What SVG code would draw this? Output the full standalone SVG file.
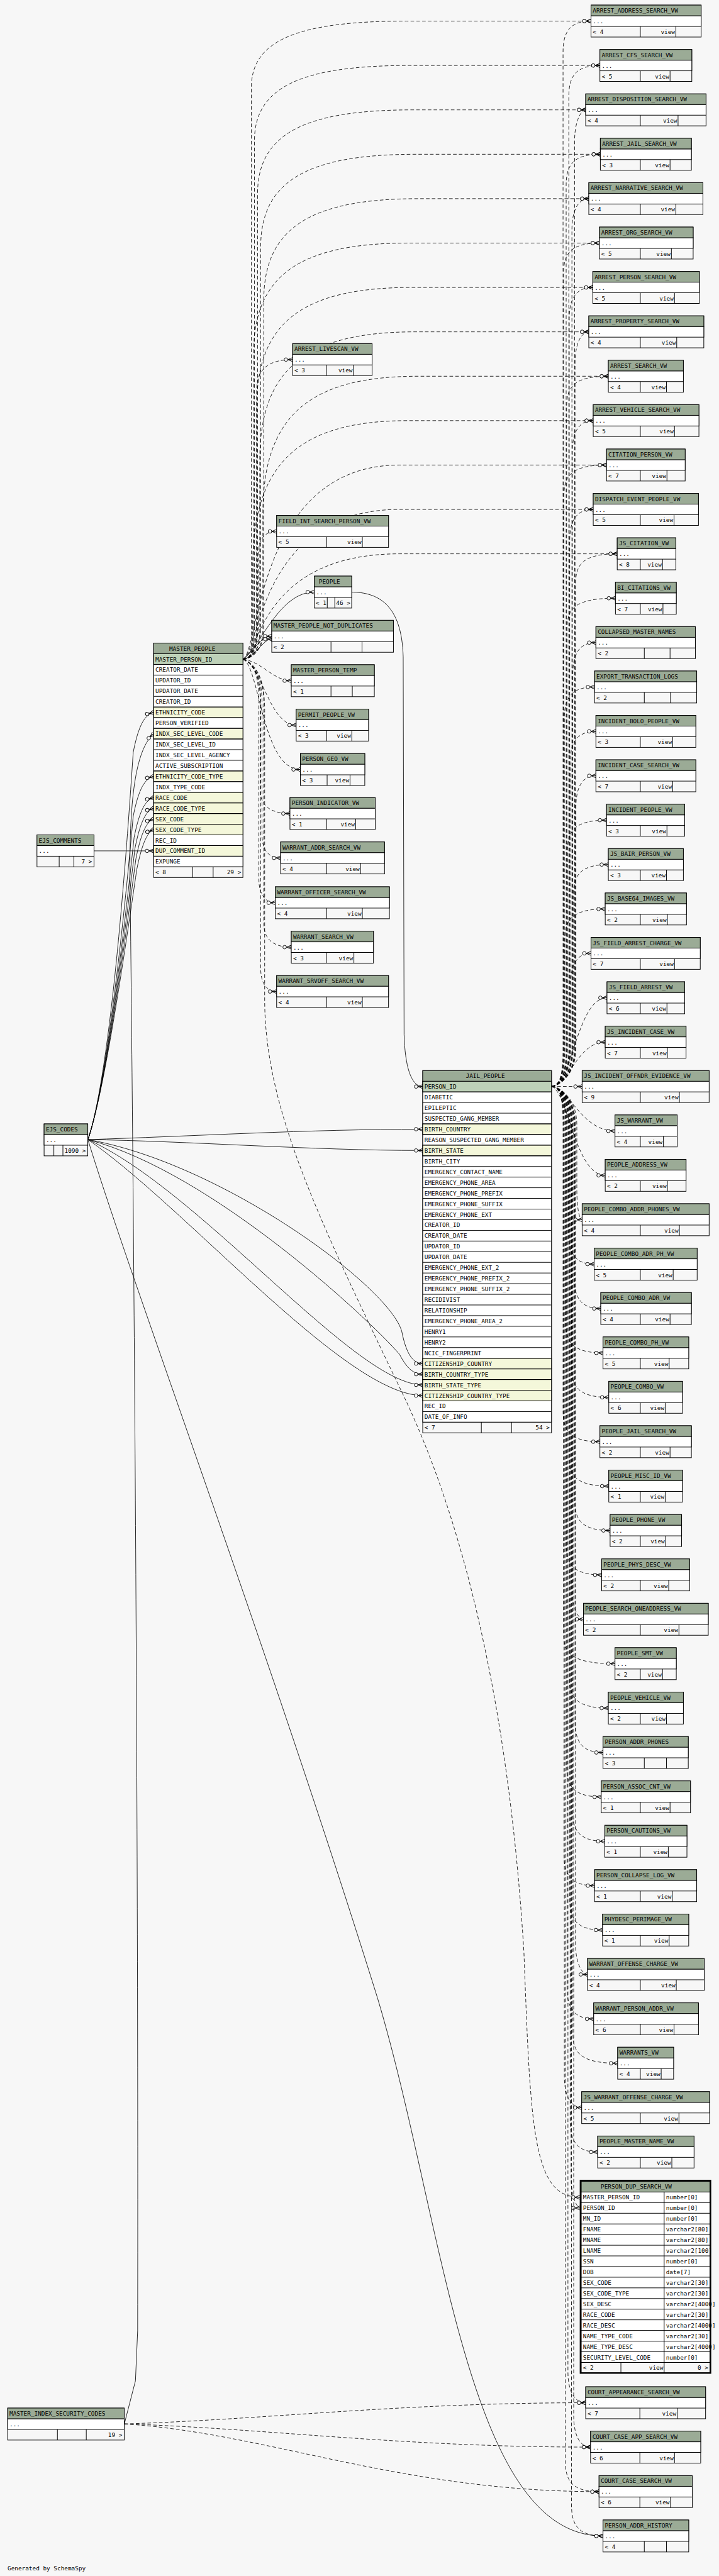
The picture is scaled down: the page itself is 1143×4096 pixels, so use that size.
<svg xmlns="http://www.w3.org/2000/svg" width="1143" height="4096" viewBox="0 0 1143 4096">
<style>
.o{fill:#f7f7f7;stroke:#000;stroke-width:1.4}
.w{fill:#fff;stroke:#000;stroke-width:1.4}
.h{fill:#9bab96;stroke:#000;stroke-width:1.4}
.p{fill:#bed1b8;stroke:#000;stroke-width:1.4}
.f{fill:#f4f7da;stroke:#000;stroke-width:1.4}
.l{fill:none;stroke:#000;stroke-width:1.4}
text{font-family:"DejaVu Sans Mono","Liberation Mono",monospace;font-size:13.3px;fill:#000}
.r{text-anchor:end}
.e{fill:none;stroke:#000;stroke-width:1.2;marker-end:url(#cf)}
.d{stroke-dasharray:8,5}
</style>
<defs>
<marker id="cf" markerUnits="userSpaceOnUse" markerWidth="30" markerHeight="16" refX="22" refY="8" orient="auto" overflow="visible">
<path d="M11,8L22,3.5M11,8L22,8M11,8L22,12.5" fill="none" stroke="#000" stroke-width="1.3"/>
<circle cx="7" cy="8" r="4" fill="#f7f7f7" stroke="#000" stroke-width="1.3"/>
</marker>
</defs>
<rect width="1143" height="4096" fill="#f7f7f7"/>
<g transform="scale(0.7059)">
<g id="connectors">
<path class="e d" d="M1242,2447C1262,2445 1268,2420 1268,2360L1268,117.5C1268,72.5 1283,47.5 1331,47.5"/>
<path class="e d" d="M1242,2447C1262,2445 1281,2420 1281,2360L1281,217.5C1281,172.5 1296,147.5 1351,147.5"/>
<path class="e d" d="M1242,2447C1262,2445 1294,2420 1294,2360L1294,317.5C1294,272.5 1309,247.5 1319,247.5"/>
<path class="e d" d="M1242,2447C1262,2445 1275,2420 1275,2360L1275,417.5C1275,372.5 1290,347.5 1352,347.5"/>
<path class="e d" d="M1242,2447C1262,2445 1288,2420 1288,2360L1288,517.5C1288,472.5 1303,447.5 1326,447.5"/>
<path class="e d" d="M1242,2447C1262,2445 1269,2420 1269,2360L1269,617.5C1269,572.5 1284,547.5 1350,547.5"/>
<path class="e d" d="M1242,2447C1262,2445 1282,2420 1282,2360L1282,717.5C1282,672.5 1297,647.5 1335,647.5"/>
<path class="e d" d="M1242,2447C1262,2445 1295,2420 1295,2360L1295,817.5C1295,772.5 1310,747.5 1326,747.5"/>
<path class="e d" d="M1242,2447C1262,2445 1276,2420 1276,2360L1276,917.5C1276,872.5 1291,847.5 1370,847.5"/>
<path class="e d" d="M1242,2447C1262,2445 1289,2420 1289,2360L1289,1017.5C1289,972.5 1304,947.5 1336,947.5"/>
<path class="e d" d="M1242,2447C1262,2445 1270,2420 1270,2360L1270,1117.5C1270,1072.5 1285,1047.5 1366,1047.5"/>
<path class="e d" d="M1242,2447C1262,2445 1283,2420 1283,2360L1283,1217.5C1283,1172.5 1298,1147.5 1336,1147.5"/>
<path class="e d" d="M1242,2447C1262,2445 1296,2420 1296,2360L1296,1317.5C1296,1272.5 1311,1247.5 1390,1247.5"/>
<path class="e d" d="M1242,2447C1262,2445 1277,2420 1277,2360L1277,1417.5C1277,1372.5 1292,1347.5 1386,1347.5"/>
<path class="e d" d="M1242,2447C1262,2445 1290,2420 1290,2360L1290,1517.5C1290,1472.5 1305,1447.5 1342,1447.5"/>
<path class="e d" d="M1242,2447C1262,2445 1271,2420 1271,2360L1271,1617.5C1271,1572.5 1286,1547.5 1339,1547.5"/>
<path class="e d" d="M1242,2447C1262,2445 1284,2420 1284,2360L1284,1717.5C1284,1672.5 1299,1647.5 1342,1647.5"/>
<path class="e d" d="M1242,2447C1262,2445 1297,2420 1297,2360L1297,1817.5C1297,1772.5 1312,1747.5 1342,1747.5"/>
<path class="e d" d="M1242,2447C1262,2445 1278,2420 1278,2360L1278,1917.5C1278,1872.5 1293,1847.5 1366,1847.5"/>
<path class="e d" d="M1242,2447C1262,2445 1291,2420 1291,2360L1291,2017.5C1291,1972.5 1306,1947.5 1370,1947.5"/>
<path class="e d" d="M1242,2447C1262,2445 1272,2420 1272,2360L1272,2117.5C1272,2072.5 1287,2047.5 1363,2047.5"/>
<path class="e d" d="M1242,2447C1262,2445 1285,2420 1285,2360L1285,2217.5C1285,2172.5 1300,2147.5 1331,2147.5"/>
<path class="e d" d="M1242,2447C1290,2440 1300,2247.5 1367,2247.5"/>
<path class="e d" d="M1242,2447C1285,2440 1300,2347.5 1363,2347.5"/>
<path class="e d" d="M1242,2447L1311,2447.5"/>
<path class="e d" d="M1242,2447C1285,2455 1310,2547.5 1385,2547.5"/>
<path class="e d" d="M1242,2447C1280,2460 1295,2647.5 1363,2647.5"/>
<path class="e d" d="M1242,2447C1262,2449 1299,2474 1299,2534L1299,2677.5C1299,2722.5 1305,2747.5 1311,2747.5"/>
<path class="e d" d="M1242,2447C1262,2449 1280,2474 1280,2534L1280,2777.5C1280,2822.5 1295,2847.5 1338,2847.5"/>
<path class="e d" d="M1242,2447C1262,2449 1293,2474 1293,2534L1293,2877.5C1293,2922.5 1308,2947.5 1353,2947.5"/>
<path class="e d" d="M1242,2447C1262,2449 1274,2474 1274,2534L1274,2977.5C1274,3022.5 1289,3047.5 1358,3047.5"/>
<path class="e d" d="M1242,2447C1262,2449 1287,2474 1287,2534L1287,3077.5C1287,3122.5 1302,3147.5 1371,3147.5"/>
<path class="e d" d="M1242,2447C1262,2449 1268,2474 1268,2534L1268,3177.5C1268,3222.5 1283,3247.5 1351,3247.5"/>
<path class="e d" d="M1242,2447C1262,2449 1281,2474 1281,2534L1281,3277.5C1281,3322.5 1296,3347.5 1371,3347.5"/>
<path class="e d" d="M1242,2447C1262,2449 1294,2474 1294,2534L1294,3377.5C1294,3422.5 1309,3447.5 1374,3447.5"/>
<path class="e d" d="M1242,2447C1262,2449 1275,2474 1275,2534L1275,3477.5C1275,3522.5 1290,3547.5 1355,3547.5"/>
<path class="e d" d="M1242,2447C1262,2449 1288,2474 1288,2534L1288,3577.5C1288,3622.5 1303,3647.5 1314,3647.5"/>
<path class="e d" d="M1242,2447C1262,2449 1269,2474 1269,2534L1269,3677.5C1269,3722.5 1284,3747.5 1385,3747.5"/>
<path class="e d" d="M1242,2447C1262,2449 1282,2474 1282,2534L1282,3777.5C1282,3822.5 1297,3847.5 1370,3847.5"/>
<path class="e d" d="M1242,2447C1262,2449 1295,2474 1295,2534L1295,3877.5C1295,3922.5 1310,3947.5 1358,3947.5"/>
<path class="e d" d="M1242,2447C1262,2449 1276,2474 1276,2534L1276,3977.5C1276,4022.5 1291,4047.5 1354,4047.5"/>
<path class="e d" d="M1242,2447C1262,2449 1289,2474 1289,2534L1289,4077.5C1289,4122.5 1304,4147.5 1362,4147.5"/>
<path class="e d" d="M1242,2447C1262,2449 1270,2474 1270,2534L1270,4177.5C1270,4222.5 1285,4247.5 1339,4247.5"/>
<path class="e d" d="M1242,2447C1262,2449 1283,2474 1283,2534L1283,4277.5C1283,4322.5 1298,4347.5 1357,4347.5"/>
<path class="e d" d="M1242,2447C1262,2449 1296,2474 1296,2534L1296,4377.5C1296,4422.5 1311,4447.5 1323,4447.5"/>
<path class="e d" d="M1242,2447C1262,2449 1277,2474 1277,2534L1277,4477.5C1277,4522.5 1292,4547.5 1337,4547.5"/>
<path class="e d" d="M1242,2447C1262,2449 1290,2474 1290,2534L1290,4577.5C1290,4622.5 1305,4647.5 1391,4647.5"/>
<path class="e d" d="M1242,2447C1262,2449 1271,2474 1271,2534L1271,4677.5C1271,4722.5 1286,4747.5 1310,4747.5"/>
<path class="e d" d="M1242,2447C1262,2449 1284,2474 1284,2534L1284,4777.5C1284,4822.5 1299,4847.5 1346,4847.5"/>
<path class="e d" d="M1242,2447C1262,2449 1286,2474 1286,2534L1286,4903.5C1286,4948.5 1300,4973.5 1306,4973.5"/>
<path class="e d" d="M1242,2447C1262,2449 1279,2474 1279,2534L1279,5342.3C1279,5387.3 1294,5412.3 1319,5412.3"/>
<path class="e d" d="M1242,2447C1262,2449 1292,2474 1292,2534L1292,5442.2C1292,5487.2 1307,5512.2 1330,5512.2"/>
<path class="e d" d="M1242,2447C1262,2449 1273,2474 1273,2534L1273,5542.5C1273,5587.5 1288,5612.5 1349,5612.5"/>
<path class="e d" d="M1242,2447C1262,2449 1287,2474 1287,2534L1287,5642.4C1287,5687.4 1302,5712.4 1358,5712.4"/>
<path class="e d" d="M547,1485C570,1484 566,1460 566,1420L566,197.5C566,92.5 666,47.5 916,47.5L1331,47.5"/>
<path class="e d" d="M547,1485C570,1484 573,1460 573,1420L573,317.5C573,198.5 673,147.5 923,147.5L1351,147.5"/>
<path class="e d" d="M547,1485C570,1484 580,1460 580,1420L580,437.5C580,304.5 680,247.5 930,247.5L1319,247.5"/>
<path class="e d" d="M547,1485C570,1484 587,1460 587,1420L587,557.5C587,410.5 687,347.5 937,347.5L1352,347.5"/>
<path class="e d" d="M547,1485C570,1484 594,1460 594,1420L594,677.5C594,516.5 694,447.5 944,447.5L1326,447.5"/>
<path class="e d" d="M547,1485C570,1484 571,1460 571,1420L571,797.5C571,622.5 671,547.5 921,547.5L1350,547.5"/>
<path class="e d" d="M547,1485C570,1484 578,1460 578,1420L578,917.5C578,728.5 678,647.5 928,647.5L1335,647.5"/>
<path class="e d" d="M547,1485C570,1484 585,1460 585,1420L585,1037.5C585,834.5 685,747.5 935,747.5L1326,747.5"/>
<path class="e d" d="M547,1485C570,1484 592,1460 592,1420L592,1157.5C592,940.5 692,847.5 942,847.5L1370,847.5"/>
<path class="e d" d="M547,1485C570,1484 569,1460 569,1420L569,1277.5C569,1046.5 669,947.5 919,947.5L1336,947.5"/>
<path class="e d" d="M547,1485C585,1470 576,1047.5 900,1047.5L1366,1047.5"/>
<path class="e d" d="M547,1485C585,1470 583,1147.5 900,1147.5L1336,1147.5"/>
<path class="e d" d="M547,1485C585,1470 590,1247.5 900,1247.5L1390,1247.5"/>
<path class="e d" d="M547,1485C572,1482 578,1450 578,1400L578,880C578,835 600,810 659,810"/>
<path class="e d" d="M547,1485C570,1480 582,1450 582,1400L582,1250C582,1215 595,1197 623,1197"/>
<path class="e" d="M547,1485C590,1450 630,1333.7 708,1333.7"/>
<path class="e" d="M547,1485C570,1470 585,1433 612,1433"/>
<path class="e" d="M547,1485C575,1480 592,1440 612,1439"/>
<path class="e d" d="M547,1485C590,1490 615,1533.3 656,1533.3"/>
<path class="e d" d="M547,1485C590,1495 605,1633.3 667,1633.3"/>
<path class="e d" d="M547,1485C585,1500 590,1733.3 676,1733.3"/>
<path class="e d" d="M547,1485C575,1495 586,1530 586,1580L586,1780C586,1815 610,1832.5 653,1832.5"/>
<path class="e d" d="M547,1485C575,1495 590,1530 590,1580L590,1880C590,1915 605,1932.5 632,1932.5"/>
<path class="e d" d="M547,1485C575,1495 583,1530 583,1580L583,1980C583,2015 598,2033.5 620,2033.5"/>
<path class="e d" d="M547,1485C575,1495 594,1530 594,1580L594,2080C594,2115 615,2133.5 656,2133.5"/>
<path class="e d" d="M547,1485C575,1495 587,1530 587,1580L587,2180C587,2215 600,2233.4 623,2233.4"/>
<path class="e d" d="M547,1485C578,1495 596,1530 596,1600L596,2250C596,2500 720,2750 908,3142C1060,3460 1150,3900 1180,4400C1195,4800 1200,4949.5 1306,4949.5"/>
<path class="e" d="M791,1333.7C850,1334 905,1360 908,1480L910,2330C912,2400 925,2447.5 952,2447.5"/>
<path class="e" d="M212,1916.6L346,1916.6"/>
<path class="e" d="M198,2567C235,2460 270,2150 300,1694.6C310,1644.6 322,1610.6 346,1604.6"/>
<path class="e" d="M198,2567C235,2460 272,2150 300,1838.6C310,1788.6 322,1754.6 346,1748.6"/>
<path class="e" d="M198,2567C235,2460 274,2150 302,1886.6C312,1836.6 324,1802.6 346,1796.6"/>
<path class="e" d="M198,2567C235,2460 276,2150 304,1910.6C314,1860.6 326,1826.6 346,1820.6"/>
<path class="e" d="M198,2567C235,2460 278,2150 306,1934.6C316,1884.6 328,1850.6 346,1844.6"/>
<path class="e" d="M198,2567C235,2460 280,2150 308,1958.6C318,1908.6 330,1874.6 346,1868.6"/>
<path class="e" d="M198,2567C420,2560 700,2543.5 952,2543.5"/>
<path class="e" d="M198,2567C420,2570 700,2591.5 952,2591.5"/>
<path class="e" d="M198,2567C500,2620 880,2900 905,3000C915,3050 930,3071.5 952,3071.5"/>
<path class="e" d="M198,2567C480,2640 840,2980 900,3051C915,3080 930,3095.5 952,3095.5"/>
<path class="e" d="M198,2567C450,2680 800,3119.5 952,3119.5"/>
<path class="e" d="M198,2567C420,2720 780,3143.5 952,3143.5"/>
<path class="e" d="M198,2567C300,2900 600,3700 850,4500C1000,5000 1050,5712.4 1358,5712.4"/>
<path class="e" d="M280,5460L305,5363L310,5250C312,4000 300,2600 293,2000C290,1800 305,1690 346,1652.6"/>
<path class="e d" d="M280,5460C600,5450 900,5412.3 1319,5412.3"/>
<path class="e d" d="M280,5460C600,5470 900,5512.2 1330,5512.2"/>
<path class="e d" d="M280,5460C600,5480 900,5612.5 1349,5612.5"/>
</g>
<g id="ARREST_ADDRESS_SEARCH_VW" transform="translate(1331,11.5)"><rect class="o" width="248" height="72"/><rect class="w" y="24" width="248" height="24"/><rect class="h" width="248" height="24"/><path class="l" d="M111,48V72M191,48V72"/><text x="4" y="17">ARREST_ADDRESS_SEARCH_VW</text><text x="4" y="41">...</text><text x="4" y="65">&lt; 4</text><text x="189" y="65" class="r">view</text></g>
<g id="ARREST_CFS_SEARCH_VW" transform="translate(1351,111.5)"><rect class="o" width="207" height="72"/><rect class="w" y="24" width="207" height="24"/><rect class="h" width="207" height="24"/><path class="l" d="M91,48V72M158,48V72"/><text x="4" y="17">ARREST_CFS_SEARCH_VW</text><text x="4" y="41">...</text><text x="4" y="65">&lt; 5</text><text x="156" y="65" class="r">view</text></g>
<g id="ARREST_DISPOSITION_SEARCH_VW" transform="translate(1319,211.5)"><rect class="o" width="271" height="72"/><rect class="w" y="24" width="271" height="24"/><rect class="h" width="271" height="24"/><path class="l" d="M123,48V72M208,48V72"/><text x="4" y="17">ARREST_DISPOSITION_SEARCH_VW</text><text x="4" y="41">...</text><text x="4" y="65">&lt; 4</text><text x="206" y="65" class="r">view</text></g>
<g id="ARREST_JAIL_SEARCH_VW" transform="translate(1352,311.5)"><rect class="o" width="205" height="72"/><rect class="w" y="24" width="205" height="24"/><rect class="h" width="205" height="24"/><path class="l" d="M90,48V72M157,48V72"/><text x="4" y="17">ARREST_JAIL_SEARCH_VW</text><text x="4" y="41">...</text><text x="4" y="65">&lt; 3</text><text x="155" y="65" class="r">view</text></g>
<g id="ARREST_NARRATIVE_SEARCH_VW" transform="translate(1326,411.5)"><rect class="o" width="257" height="72"/><rect class="w" y="24" width="257" height="24"/><rect class="h" width="257" height="24"/><path class="l" d="M116,48V72M196,48V72"/><text x="4" y="17">ARREST_NARRATIVE_SEARCH_VW</text><text x="4" y="41">...</text><text x="4" y="65">&lt; 4</text><text x="194" y="65" class="r">view</text></g>
<g id="ARREST_ORG_SEARCH_VW" transform="translate(1350,511.5)"><rect class="o" width="211" height="72"/><rect class="w" y="24" width="211" height="24"/><rect class="h" width="211" height="24"/><path class="l" d="M92,48V72M162,48V72"/><text x="4" y="17">ARREST_ORG_SEARCH_VW</text><text x="4" y="41">...</text><text x="4" y="65">&lt; 5</text><text x="160" y="65" class="r">view</text></g>
<g id="ARREST_PERSON_SEARCH_VW" transform="translate(1335,611.5)"><rect class="o" width="240" height="72"/><rect class="w" y="24" width="240" height="24"/><rect class="h" width="240" height="24"/><path class="l" d="M107,48V72M184,48V72"/><text x="4" y="17">ARREST_PERSON_SEARCH_VW</text><text x="4" y="41">...</text><text x="4" y="65">&lt; 5</text><text x="182" y="65" class="r">view</text></g>
<g id="ARREST_PROPERTY_SEARCH_VW" transform="translate(1326,711.5)"><rect class="o" width="259" height="72"/><rect class="w" y="24" width="259" height="24"/><rect class="h" width="259" height="24"/><path class="l" d="M116,48V72M198,48V72"/><text x="4" y="17">ARREST_PROPERTY_SEARCH_VW</text><text x="4" y="41">...</text><text x="4" y="65">&lt; 4</text><text x="196" y="65" class="r">view</text></g>
<g id="ARREST_SEARCH_VW" transform="translate(1370,811.5)"><rect class="o" width="169" height="72"/><rect class="w" y="24" width="169" height="24"/><rect class="h" width="169" height="24"/><path class="l" d="M72,48V72M131,48V72"/><text x="4" y="17">ARREST_SEARCH_VW</text><text x="4" y="41">...</text><text x="4" y="65">&lt; 4</text><text x="129" y="65" class="r">view</text></g>
<g id="ARREST_VEHICLE_SEARCH_VW" transform="translate(1336,911.5)"><rect class="o" width="238" height="72"/><rect class="w" y="24" width="238" height="24"/><rect class="h" width="238" height="24"/><path class="l" d="M106,48V72M183,48V72"/><text x="4" y="17">ARREST_VEHICLE_SEARCH_VW</text><text x="4" y="41">...</text><text x="4" y="65">&lt; 5</text><text x="181" y="65" class="r">view</text></g>
<g id="CITATION_PERSON_VW" transform="translate(1366,1011.5)"><rect class="o" width="177" height="72"/><rect class="w" y="24" width="177" height="24"/><rect class="h" width="177" height="24"/><path class="l" d="M76,48V72M136,48V72"/><text x="4" y="17">CITATION_PERSON_VW</text><text x="4" y="41">...</text><text x="4" y="65">&lt; 7</text><text x="134" y="65" class="r">view</text></g>
<g id="DISPATCH_EVENT_PEOPLE_VW" transform="translate(1336,1111.5)"><rect class="o" width="237" height="72"/><rect class="w" y="24" width="237" height="24"/><rect class="h" width="237" height="24"/><path class="l" d="M106,48V72M182,48V72"/><text x="4" y="17">DISPATCH_EVENT_PEOPLE_VW</text><text x="4" y="41">...</text><text x="4" y="65">&lt; 5</text><text x="180" y="65" class="r">view</text></g>
<g id="JS_CITATION_VW" transform="translate(1390,1211.5)"><rect class="o" width="132" height="72"/><rect class="w" y="24" width="132" height="24"/><rect class="h" width="132" height="24"/><path class="l" d="M52,48V72M102,48V72"/><text x="4" y="17">JS_CITATION_VW</text><text x="4" y="41">...</text><text x="4" y="65">&lt; 8</text><text x="100" y="65" class="r">view</text></g>
<g id="BI_CITATIONS_VW" transform="translate(1386,1311.5)"><rect class="o" width="137" height="72"/><rect class="w" y="24" width="137" height="24"/><rect class="h" width="137" height="24"/><path class="l" d="M56,48V72M107,48V72"/><text x="4" y="17">BI_CITATIONS_VW</text><text x="4" y="41">...</text><text x="4" y="65">&lt; 7</text><text x="105" y="65" class="r">view</text></g>
<g id="COLLAPSED_MASTER_NAMES" transform="translate(1342,1411.5)"><rect class="o" width="224" height="72"/><rect class="w" y="24" width="224" height="24"/><rect class="h" width="224" height="24"/><path class="l" d="M109,48V72M167,48V72"/><text x="4" y="17">COLLAPSED_MASTER_NAMES</text><text x="4" y="41">...</text><text x="4" y="65">&lt; 2</text></g>
<g id="EXPORT_TRANSACTION_LOGS" transform="translate(1339,1511.5)"><rect class="o" width="230" height="72"/><rect class="w" y="24" width="230" height="24"/><rect class="h" width="230" height="24"/><path class="l" d="M112,48V72M171,48V72"/><text x="4" y="17">EXPORT_TRANSACTION_LOGS</text><text x="4" y="41">...</text><text x="4" y="65">&lt; 2</text></g>
<g id="INCIDENT_BOLO_PEOPLE_VW" transform="translate(1342,1611.5)"><rect class="o" width="225" height="72"/><rect class="w" y="24" width="225" height="24"/><rect class="h" width="225" height="24"/><path class="l" d="M100,48V72M173,48V72"/><text x="4" y="17">INCIDENT_BOLO_PEOPLE_VW</text><text x="4" y="41">...</text><text x="4" y="65">&lt; 3</text><text x="171" y="65" class="r">view</text></g>
<g id="INCIDENT_CASE_SEARCH_VW" transform="translate(1342,1711.5)"><rect class="o" width="225" height="72"/><rect class="w" y="24" width="225" height="24"/><rect class="h" width="225" height="24"/><path class="l" d="M100,48V72M173,48V72"/><text x="4" y="17">INCIDENT_CASE_SEARCH_VW</text><text x="4" y="41">...</text><text x="4" y="65">&lt; 7</text><text x="171" y="65" class="r">view</text></g>
<g id="INCIDENT_PEOPLE_VW" transform="translate(1366,1811.5)"><rect class="o" width="176" height="72"/><rect class="w" y="24" width="176" height="24"/><rect class="h" width="176" height="24"/><path class="l" d="M76,48V72M136,48V72"/><text x="4" y="17">INCIDENT_PEOPLE_VW</text><text x="4" y="41">...</text><text x="4" y="65">&lt; 3</text><text x="134" y="65" class="r">view</text></g>
<g id="JS_BAIR_PERSON_VW" transform="translate(1370,1911.5)"><rect class="o" width="169" height="72"/><rect class="w" y="24" width="169" height="24"/><rect class="h" width="169" height="24"/><path class="l" d="M72,48V72M131,48V72"/><text x="4" y="17">JS_BAIR_PERSON_VW</text><text x="4" y="41">...</text><text x="4" y="65">&lt; 3</text><text x="129" y="65" class="r">view</text></g>
<g id="JS_BASE64_IMAGES_VW" transform="translate(1363,2011.5)"><rect class="o" width="183" height="72"/><rect class="w" y="24" width="183" height="24"/><rect class="h" width="183" height="24"/><path class="l" d="M79,48V72M140,48V72"/><text x="4" y="17">JS_BASE64_IMAGES_VW</text><text x="4" y="41">...</text><text x="4" y="65">&lt; 2</text><text x="138" y="65" class="r">view</text></g>
<g id="JS_FIELD_ARREST_CHARGE_VW" transform="translate(1331,2111.5)"><rect class="o" width="246" height="72"/><rect class="w" y="24" width="246" height="24"/><rect class="h" width="246" height="24"/><path class="l" d="M111,48V72M188,48V72"/><text x="4" y="17">JS_FIELD_ARREST_CHARGE_VW</text><text x="4" y="41">...</text><text x="4" y="65">&lt; 7</text><text x="186" y="65" class="r">view</text></g>
<g id="JS_FIELD_ARREST_VW" transform="translate(1367,2211.5)"><rect class="o" width="175" height="72"/><rect class="w" y="24" width="175" height="24"/><rect class="h" width="175" height="24"/><path class="l" d="M75,48V72M135,48V72"/><text x="4" y="17">JS_FIELD_ARREST_VW</text><text x="4" y="41">...</text><text x="4" y="65">&lt; 6</text><text x="133" y="65" class="r">view</text></g>
<g id="JS_INCIDENT_CASE_VW" transform="translate(1363,2311.5)"><rect class="o" width="182" height="72"/><rect class="w" y="24" width="182" height="24"/><rect class="h" width="182" height="24"/><path class="l" d="M79,48V72M140,48V72"/><text x="4" y="17">JS_INCIDENT_CASE_VW</text><text x="4" y="41">...</text><text x="4" y="65">&lt; 7</text><text x="138" y="65" class="r">view</text></g>
<g id="JS_INCIDENT_OFFNDR_EVIDENCE_VW" transform="translate(1311,2411.5)"><rect class="o" width="286" height="72"/><rect class="w" y="24" width="286" height="24"/><rect class="h" width="286" height="24"/><path class="l" d="M131,48V72M219,48V72"/><text x="4" y="17">JS_INCIDENT_OFFNDR_EVIDENCE_VW</text><text x="4" y="41">...</text><text x="4" y="65">&lt; 9</text><text x="217" y="65" class="r">view</text></g>
<g id="JS_WARRANT_VW" transform="translate(1385,2511.5)"><rect class="o" width="140" height="72"/><rect class="w" y="24" width="140" height="24"/><rect class="h" width="140" height="24"/><path class="l" d="M57,48V72M109,48V72"/><text x="4" y="17">JS_WARRANT_VW</text><text x="4" y="41">...</text><text x="4" y="65">&lt; 4</text><text x="107" y="65" class="r">view</text></g>
<g id="PEOPLE_ADDRESS_VW" transform="translate(1363,2611.5)"><rect class="o" width="182" height="72"/><rect class="w" y="24" width="182" height="24"/><rect class="h" width="182" height="24"/><path class="l" d="M79,48V72M140,48V72"/><text x="4" y="17">PEOPLE_ADDRESS_VW</text><text x="4" y="41">...</text><text x="4" y="65">&lt; 2</text><text x="138" y="65" class="r">view</text></g>
<g id="PEOPLE_COMBO_ADDR_PHONES_VW" transform="translate(1311,2711.5)"><rect class="o" width="286" height="72"/><rect class="w" y="24" width="286" height="24"/><rect class="h" width="286" height="24"/><path class="l" d="M131,48V72M219,48V72"/><text x="4" y="17">PEOPLE_COMBO_ADDR_PHONES_VW</text><text x="4" y="41">...</text><text x="4" y="65">&lt; 4</text><text x="217" y="65" class="r">view</text></g>
<g id="PEOPLE_COMBO_ADR_PH_VW" transform="translate(1338,2811.5)"><rect class="o" width="232" height="72"/><rect class="w" y="24" width="232" height="24"/><rect class="h" width="232" height="24"/><path class="l" d="M104,48V72M178,48V72"/><text x="4" y="17">PEOPLE_COMBO_ADR_PH_VW</text><text x="4" y="41">...</text><text x="4" y="65">&lt; 5</text><text x="176" y="65" class="r">view</text></g>
<g id="PEOPLE_COMBO_ADR_VW" transform="translate(1353,2911.5)"><rect class="o" width="204" height="72"/><rect class="w" y="24" width="204" height="24"/><rect class="h" width="204" height="24"/><path class="l" d="M89,48V72M156,48V72"/><text x="4" y="17">PEOPLE_COMBO_ADR_VW</text><text x="4" y="41">...</text><text x="4" y="65">&lt; 4</text><text x="154" y="65" class="r">view</text></g>
<g id="PEOPLE_COMBO_PH_VW" transform="translate(1358,3011.5)"><rect class="o" width="193" height="72"/><rect class="w" y="24" width="193" height="24"/><rect class="h" width="193" height="24"/><path class="l" d="M84,48V72M149,48V72"/><text x="4" y="17">PEOPLE_COMBO_PH_VW</text><text x="4" y="41">...</text><text x="4" y="65">&lt; 5</text><text x="147" y="65" class="r">view</text></g>
<g id="PEOPLE_COMBO_VW" transform="translate(1371,3111.5)"><rect class="o" width="166" height="72"/><rect class="w" y="24" width="166" height="24"/><rect class="h" width="166" height="24"/><path class="l" d="M71,48V72M127,48V72"/><text x="4" y="17">PEOPLE_COMBO_VW</text><text x="4" y="41">...</text><text x="4" y="65">&lt; 6</text><text x="125" y="65" class="r">view</text></g>
<g id="PEOPLE_JAIL_SEARCH_VW" transform="translate(1351,3211.5)"><rect class="o" width="206" height="72"/><rect class="w" y="24" width="206" height="24"/><rect class="h" width="206" height="24"/><path class="l" d="M91,48V72M158,48V72"/><text x="4" y="17">PEOPLE_JAIL_SEARCH_VW</text><text x="4" y="41">...</text><text x="4" y="65">&lt; 2</text><text x="156" y="65" class="r">view</text></g>
<g id="PEOPLE_MISC_ID_VW" transform="translate(1371,3311.5)"><rect class="o" width="166" height="72"/><rect class="w" y="24" width="166" height="24"/><rect class="h" width="166" height="24"/><path class="l" d="M71,48V72M127,48V72"/><text x="4" y="17">PEOPLE_MISC_ID_VW</text><text x="4" y="41">...</text><text x="4" y="65">&lt; 1</text><text x="125" y="65" class="r">view</text></g>
<g id="PEOPLE_PHONE_VW" transform="translate(1374,3411.5)"><rect class="o" width="161" height="72"/><rect class="w" y="24" width="161" height="24"/><rect class="h" width="161" height="24"/><path class="l" d="M68,48V72M125,48V72"/><text x="4" y="17">PEOPLE_PHONE_VW</text><text x="4" y="41">...</text><text x="4" y="65">&lt; 2</text><text x="123" y="65" class="r">view</text></g>
<g id="PEOPLE_PHYS_DESC_VW" transform="translate(1355,3511.5)"><rect class="o" width="198" height="72"/><rect class="w" y="24" width="198" height="24"/><rect class="h" width="198" height="24"/><path class="l" d="M87,48V72M151,48V72"/><text x="4" y="17">PEOPLE_PHYS_DESC_VW</text><text x="4" y="41">...</text><text x="4" y="65">&lt; 2</text><text x="149" y="65" class="r">view</text></g>
<g id="PEOPLE_SEARCH_ONEADDRESS_VW" transform="translate(1314,3611.5)"><rect class="o" width="281" height="72"/><rect class="w" y="24" width="281" height="24"/><rect class="h" width="281" height="24"/><path class="l" d="M128,48V72M215,48V72"/><text x="4" y="17">PEOPLE_SEARCH_ONEADDRESS_VW</text><text x="4" y="41">...</text><text x="4" y="65">&lt; 2</text><text x="213" y="65" class="r">view</text></g>
<g id="PEOPLE_SMT_VW" transform="translate(1385,3711.5)"><rect class="o" width="138" height="72"/><rect class="w" y="24" width="138" height="24"/><rect class="h" width="138" height="24"/><path class="l" d="M57,48V72M107,48V72"/><text x="4" y="17">PEOPLE_SMT_VW</text><text x="4" y="41">...</text><text x="4" y="65">&lt; 2</text><text x="105" y="65" class="r">view</text></g>
<g id="PEOPLE_VEHICLE_VW" transform="translate(1370,3811.5)"><rect class="o" width="169" height="72"/><rect class="w" y="24" width="169" height="24"/><rect class="h" width="169" height="24"/><path class="l" d="M72,48V72M131,48V72"/><text x="4" y="17">PEOPLE_VEHICLE_VW</text><text x="4" y="41">...</text><text x="4" y="65">&lt; 2</text><text x="129" y="65" class="r">view</text></g>
<g id="PERSON_ADDR_PHONES" transform="translate(1358,3911.5)"><rect class="o" width="192" height="72"/><rect class="w" y="24" width="192" height="24"/><rect class="h" width="192" height="24"/><path class="l" d="M93,48V72M143,48V72"/><text x="4" y="17">PERSON_ADDR_PHONES</text><text x="4" y="41">...</text><text x="4" y="65">&lt; 3</text></g>
<g id="PERSON_ASSOC_CNT_VW" transform="translate(1354,4011.5)"><rect class="o" width="201" height="72"/><rect class="w" y="24" width="201" height="24"/><rect class="h" width="201" height="24"/><path class="l" d="M88,48V72M155,48V72"/><text x="4" y="17">PERSON_ASSOC_CNT_VW</text><text x="4" y="41">...</text><text x="4" y="65">&lt; 1</text><text x="153" y="65" class="r">view</text></g>
<g id="PERSON_CAUTIONS_VW" transform="translate(1362,4111.5)"><rect class="o" width="185" height="72"/><rect class="w" y="24" width="185" height="24"/><rect class="h" width="185" height="24"/><path class="l" d="M80,48V72M143,48V72"/><text x="4" y="17">PERSON_CAUTIONS_VW</text><text x="4" y="41">...</text><text x="4" y="65">&lt; 1</text><text x="141" y="65" class="r">view</text></g>
<g id="PERSON_COLLAPSE_LOG_VW" transform="translate(1339,4211.5)"><rect class="o" width="230" height="72"/><rect class="w" y="24" width="230" height="24"/><rect class="h" width="230" height="24"/><path class="l" d="M103,48V72M175,48V72"/><text x="4" y="17">PERSON_COLLAPSE_LOG_VW</text><text x="4" y="41">...</text><text x="4" y="65">&lt; 1</text><text x="173" y="65" class="r">view</text></g>
<g id="PHYDESC_PERIMAGE_VW" transform="translate(1357,4311.5)"><rect class="o" width="194" height="72"/><rect class="w" y="24" width="194" height="24"/><rect class="h" width="194" height="24"/><path class="l" d="M85,48V72M150,48V72"/><text x="4" y="17">PHYDESC_PERIMAGE_VW</text><text x="4" y="41">...</text><text x="4" y="65">&lt; 1</text><text x="148" y="65" class="r">view</text></g>
<g id="WARRANT_OFFENSE_CHARGE_VW" transform="translate(1323,4411.5)"><rect class="o" width="263" height="72"/><rect class="w" y="24" width="263" height="24"/><rect class="h" width="263" height="24"/><path class="l" d="M119,48V72M200,48V72"/><text x="4" y="17">WARRANT_OFFENSE_CHARGE_VW</text><text x="4" y="41">...</text><text x="4" y="65">&lt; 4</text><text x="198" y="65" class="r">view</text></g>
<g id="WARRANT_PERSON_ADDR_VW" transform="translate(1337,4511.5)"><rect class="o" width="236" height="72"/><rect class="w" y="24" width="236" height="24"/><rect class="h" width="236" height="24"/><path class="l" d="M105,48V72M181,48V72"/><text x="4" y="17">WARRANT_PERSON_ADDR_VW</text><text x="4" y="41">...</text><text x="4" y="65">&lt; 6</text><text x="179" y="65" class="r">view</text></g>
<g id="WARRANTS_VW" transform="translate(1391,4611.5)"><rect class="o" width="126" height="72"/><rect class="w" y="24" width="126" height="24"/><rect class="h" width="126" height="24"/><path class="l" d="M51,48V72M98,48V72"/><text x="4" y="17">WARRANTS_VW</text><text x="4" y="41">...</text><text x="4" y="65">&lt; 4</text><text x="96" y="65" class="r">view</text></g>
<g id="JS_WARRANT_OFFENSE_CHARGE_VW" transform="translate(1310,4711.5)"><rect class="o" width="288" height="72"/><rect class="w" y="24" width="288" height="24"/><rect class="h" width="288" height="24"/><path class="l" d="M132,48V72M219,48V72"/><text x="4" y="17">JS_WARRANT_OFFENSE_CHARGE_VW</text><text x="4" y="41">...</text><text x="4" y="65">&lt; 5</text><text x="217" y="65" class="r">view</text></g>
<g id="PEOPLE_MASTER_NAME_VW" transform="translate(1346,4811.5)"><rect class="o" width="217" height="72"/><rect class="w" y="24" width="217" height="24"/><rect class="h" width="217" height="24"/><path class="l" d="M96,48V72M167,48V72"/><text x="4" y="17">PEOPLE_MASTER_NAME_VW</text><text x="4" y="41">...</text><text x="4" y="65">&lt; 2</text><text x="165" y="65" class="r">view</text></g>
<g id="PERSON_DUP_SEARCH_VW">
<g transform="translate(1309,4913.5)"><rect class="o" width="290" height="432"/><rect class="w" y="24" width="290" height="384"/><rect class="h" width="290" height="24"/>
<path class="l" d="M0,48h290M0,72h290M0,96h290M0,120h290M0,144h290M0,168h290M0,192h290M0,216h290M0,240h290M0,264h290M0,288h290M0,312h290M0,336h290M0,360h290M0,384h290M0,408h290M186.7,24V432M89.3,408V432"/>
<text x="44" y="17">PERSON_DUP_SEARCH_VW</text>
<text x="4" y="41">MASTER_PERSON_ID</text><text x="190.7" y="41">number[0]</text>
<text x="4" y="65">PERSON_ID</text><text x="190.7" y="65">number[0]</text>
<text x="4" y="89">MN_ID</text><text x="190.7" y="89">number[0]</text>
<text x="4" y="113">FNAME</text><text x="190.7" y="113">varchar2[80]</text>
<text x="4" y="137">MNAME</text><text x="190.7" y="137">varchar2[80]</text>
<text x="4" y="161">LNAME</text><text x="190.7" y="161">varchar2[100]</text>
<text x="4" y="185">SSN</text><text x="190.7" y="185">number[0]</text>
<text x="4" y="209">DOB</text><text x="190.7" y="209">date[7]</text>
<text x="4" y="233">SEX_CODE</text><text x="190.7" y="233">varchar2[30]</text>
<text x="4" y="257">SEX_CODE_TYPE</text><text x="190.7" y="257">varchar2[30]</text>
<text x="4" y="281">SEX_DESC</text><text x="190.7" y="281">varchar2[4000]</text>
<text x="4" y="305">RACE_CODE</text><text x="190.7" y="305">varchar2[30]</text>
<text x="4" y="329">RACE_DESC</text><text x="190.7" y="329">varchar2[4000]</text>
<text x="4" y="353">NAME_TYPE_CODE</text><text x="190.7" y="353">varchar2[30]</text>
<text x="4" y="377">NAME_TYPE_DESC</text><text x="190.7" y="377">varchar2[4000]</text>
<text x="4" y="401">SECURITY_LEVEL_CODE</text><text x="190.7" y="401">number[0]</text>
<text x="4" y="425">&lt; 2</text><text x="184.7" y="425" class="r">view</text><text x="286" y="425" class="r">0 &gt;</text>
</g>
<rect x="1307.3" y="4911.7" width="292.7" height="433.6" fill="none" stroke="#000" stroke-width="3.4"/>
</g>
<g id="COURT_APPEARANCE_SEARCH_VW" transform="translate(1319,5376.3)"><rect class="o" width="270" height="72"/><rect class="w" y="24" width="270" height="24"/><rect class="h" width="270" height="24"/><path class="l" d="M122,48V72M206,48V72"/><text x="4" y="17">COURT_APPEARANCE_SEARCH_VW</text><text x="4" y="41">...</text><text x="4" y="65">&lt; 7</text><text x="204" y="65" class="r">view</text></g>
<g id="COURT_CASE_APP_SEARCH_VW" transform="translate(1330,5476.2)"><rect class="o" width="248" height="72"/><rect class="w" y="24" width="248" height="24"/><rect class="h" width="248" height="24"/><path class="l" d="M111,48V72M189,48V72"/><text x="4" y="17">COURT_CASE_APP_SEARCH_VW</text><text x="4" y="41">...</text><text x="4" y="65">&lt; 6</text><text x="187" y="65" class="r">view</text></g>
<g id="COURT_CASE_SEARCH_VW" transform="translate(1349,5576.5)"><rect class="o" width="210" height="72"/><rect class="w" y="24" width="210" height="24"/><rect class="h" width="210" height="24"/><path class="l" d="M92,48V72M161,48V72"/><text x="4" y="17">COURT_CASE_SEARCH_VW</text><text x="4" y="41">...</text><text x="4" y="65">&lt; 6</text><text x="159" y="65" class="r">view</text></g>
<g id="PERSON_ADDR_HISTORY" transform="translate(1358,5676.4)"><rect class="o" width="193" height="72"/><rect class="w" y="24" width="193" height="24"/><rect class="h" width="193" height="24"/><path class="l" d="M93,48V72M143,48V72"/><text x="4" y="17">PERSON_ADDR_HISTORY</text><text x="4" y="41">...</text><text x="4" y="65">&lt; 4</text></g>
<g id="ARREST_LIVESCAN_VW" transform="translate(659,774)"><rect class="o" width="179" height="72"/><rect class="w" y="24" width="179" height="24"/><rect class="h" width="179" height="24"/><path class="l" d="M76,48V72M137,48V72"/><text x="4" y="17">ARREST_LIVESCAN_VW</text><text x="4" y="41">...</text><text x="4" y="65">&lt; 3</text><text x="135" y="65" class="r">view</text></g>
<g id="FIELD_INT_SEARCH_PERSON_VW" transform="translate(623,1161)"><rect class="o" width="252" height="72"/><rect class="w" y="24" width="252" height="24"/><rect class="h" width="252" height="24"/><path class="l" d="M113,48V72M193,48V72"/><text x="4" y="17">FIELD_INT_SEARCH_PERSON_VW</text><text x="4" y="41">...</text><text x="4" y="65">&lt; 5</text><text x="191" y="65" class="r">view</text></g>
<g id="PEOPLE" transform="translate(708,1297.7)"><rect class="o" width="84" height="72"/><rect class="w" y="24" width="84" height="24"/><rect class="h" width="84" height="24"/><path class="l" d="M29,48V72M46,48V72"/><text x="10" y="17">PEOPLE</text><text x="4" y="41">...</text><text x="3" y="65">&lt; 1</text><text x="81" y="65" class="r">46 &gt;</text></g>
<g id="MASTER_PEOPLE_NOT_DUPLICATES" transform="translate(612,1397.3)"><rect class="o" width="274" height="72"/><rect class="w" y="24" width="274" height="24"/><rect class="h" width="274" height="24"/><path class="l" d="M133.4,48V72M203.3,48V72"/><text x="4" y="17">MASTER_PEOPLE_NOT_DUPLICATES</text><text x="4" y="41">...</text><text x="4" y="65">&lt; 2</text></g>
<g id="MASTER_PERSON_TEMP" transform="translate(656,1497.3)"><rect class="o" width="187" height="72"/><rect class="w" y="24" width="187" height="24"/><rect class="h" width="187" height="24"/><path class="l" d="M89.4,48V72M137.4,48V72"/><text x="4" y="17">MASTER_PERSON_TEMP</text><text x="4" y="41">...</text><text x="4" y="65">&lt; 1</text></g>
<g id="PERMIT_PEOPLE_VW" transform="translate(667,1597.3)"><rect class="o" width="163" height="72"/><rect class="w" y="24" width="163" height="24"/><rect class="h" width="163" height="24"/><path class="l" d="M68.7,48V72M125.3,48V72"/><text x="4" y="17">PERMIT_PEOPLE_VW</text><text x="4" y="41">...</text><text x="4" y="65">&lt; 3</text><text x="123.3" y="65" class="r">view</text></g>
<g id="PERSON_GEO_VW" transform="translate(676.5,1697.3)"><rect class="o" width="145" height="72"/><rect class="w" y="24" width="145" height="24"/><rect class="h" width="145" height="24"/><path class="l" d="M60.2,48V72M111.8,48V72"/><text x="4" y="17">PERSON_GEO_VW</text><text x="4" y="41">...</text><text x="4" y="65">&lt; 3</text><text x="109.8" y="65" class="r">view</text></g>
<g id="PERSON_INDICATOR_VW" transform="translate(653,1796.5)"><rect class="o" width="192" height="72"/><rect class="w" y="24" width="192" height="24"/><rect class="h" width="192" height="24"/><path class="l" d="M83,48V72M148,48V72"/><text x="4" y="17">PERSON_INDICATOR_VW</text><text x="4" y="41">...</text><text x="4" y="65">&lt; 1</text><text x="146" y="65" class="r">view</text></g>
<g id="WARRANT_ADDR_SEARCH_VW" transform="translate(632,1896.5)"><rect class="o" width="234" height="72"/><rect class="w" y="24" width="234" height="24"/><rect class="h" width="234" height="24"/><path class="l" d="M104,48V72M180,48V72"/><text x="4" y="17">WARRANT_ADDR_SEARCH_VW</text><text x="4" y="41">...</text><text x="4" y="65">&lt; 4</text><text x="178" y="65" class="r">view</text></g>
<g id="WARRANT_OFFICER_SEARCH_VW" transform="translate(620,1997.5)"><rect class="o" width="257" height="72"/><rect class="w" y="24" width="257" height="24"/><rect class="h" width="257" height="24"/><path class="l" d="M116,48V72M196,48V72"/><text x="4" y="17">WARRANT_OFFICER_SEARCH_VW</text><text x="4" y="41">...</text><text x="4" y="65">&lt; 4</text><text x="194" y="65" class="r">view</text></g>
<g id="WARRANT_SEARCH_VW" transform="translate(656,2097.5)"><rect class="o" width="185" height="72"/><rect class="w" y="24" width="185" height="24"/><rect class="h" width="185" height="24"/><path class="l" d="M79,48V72M141,48V72"/><text x="4" y="17">WARRANT_SEARCH_VW</text><text x="4" y="41">...</text><text x="4" y="65">&lt; 3</text><text x="139" y="65" class="r">view</text></g>
<g id="WARRANT_SRVOFF_SEARCH_VW" transform="translate(623,2197.4)"><rect class="o" width="252" height="72"/><rect class="w" y="24" width="252" height="24"/><rect class="h" width="252" height="24"/><path class="l" d="M113,48V72M193,48V72"/><text x="4" y="17">WARRANT_SRVOFF_SEARCH_VW</text><text x="4" y="41">...</text><text x="4" y="65">&lt; 4</text><text x="191" y="65" class="r">view</text></g>
<g id="MASTER_PEOPLE" transform="translate(346,1448.6)"><rect class="o" width="201" height="528"/><rect class="w" y="24" width="201" height="480"/>
<rect class="p" y="24" width="201" height="24"/><rect class="f" y="144" width="201" height="24"/><rect class="f" y="192" width="201" height="24"/><rect class="f" y="288" width="201" height="24"/><rect class="f" y="336" width="201" height="24"/><rect class="f" y="360" width="201" height="24"/><rect class="f" y="384" width="201" height="24"/><rect class="f" y="408" width="201" height="24"/><rect class="f" y="456" width="201" height="24"/>
<rect class="h" width="201" height="24"/>
<path class="l" d="M0,48h201M0,72h201M0,96h201M0,120h201M0,144h201M0,168h201M0,192h201M0,216h201M0,240h201M0,264h201M0,288h201M0,312h201M0,336h201M0,360h201M0,384h201M0,408h201M0,432h201M0,456h201M0,480h201M0,504h201M88,504V528M134,504V528"/>
<text x="35" y="17">MASTER_PEOPLE</text>
<text x="4" y="41">MASTER_PERSON_ID</text><text x="4" y="65">CREATOR_DATE</text><text x="4" y="89">UPDATOR_ID</text><text x="4" y="113">UPDATOR_DATE</text><text x="4" y="137">CREATOR_ID</text><text x="4" y="161">ETHNICITY_CODE</text><text x="4" y="185">PERSON_VERIFIED</text><text x="4" y="209">INDX_SEC_LEVEL_CODE</text><text x="4" y="233">INDX_SEC_LEVEL_ID</text><text x="4" y="257">INDX_SEC_LEVEL_AGENCY</text><text x="4" y="281">ACTIVE_SUBSCRIPTION</text><text x="4" y="305">ETHNICITY_CODE_TYPE</text><text x="4" y="329">INDX_TYPE_CODE</text><text x="4" y="353">RACE_CODE</text><text x="4" y="377">RACE_CODE_TYPE</text><text x="4" y="401">SEX_CODE</text><text x="4" y="425">SEX_CODE_TYPE</text><text x="4" y="449">REC_ID</text><text x="4" y="473">DUP_COMMENT_ID</text><text x="4" y="497">EXPUNGE</text>
<text x="4" y="521">&lt; 8</text><text x="197" y="521" class="r">29 &gt;</text></g>
<g id="JAIL_PEOPLE" transform="translate(952,2411.5)"><rect class="o" width="290" height="816"/><rect class="w" y="24" width="290" height="768"/>
<rect class="p" y="24" width="290" height="24"/><rect class="f" y="120" width="290" height="24"/><rect class="f" y="168" width="290" height="24"/><rect class="f" y="648" width="290" height="24"/><rect class="f" y="672" width="290" height="24"/><rect class="f" y="696" width="290" height="24"/><rect class="f" y="720" width="290" height="24"/>
<rect class="h" width="290" height="24"/>
<path class="l" d="M0,48h290M0,72h290M0,96h290M0,120h290M0,144h290M0,168h290M0,192h290M0,216h290M0,240h290M0,264h290M0,288h290M0,312h290M0,336h290M0,360h290M0,384h290M0,408h290M0,432h290M0,456h290M0,480h290M0,504h290M0,528h290M0,552h290M0,576h290M0,600h290M0,624h290M0,648h290M0,672h290M0,696h290M0,720h290M0,744h290M0,768h290M0,792h290M132,792V816M200,792V816"/>
<text x="97" y="17">JAIL_PEOPLE</text>
<text x="4" y="41">PERSON_ID</text><text x="4" y="65">DIABETIC</text><text x="4" y="89">EPILEPTIC</text><text x="4" y="113">SUSPECTED_GANG_MEMBER</text><text x="4" y="137">BIRTH_COUNTRY</text><text x="4" y="161">REASON_SUSPECTED_GANG_MEMBER</text><text x="4" y="185">BIRTH_STATE</text><text x="4" y="209">BIRTH_CITY</text><text x="4" y="233">EMERGENCY_CONTACT_NAME</text><text x="4" y="257">EMERGENCY_PHONE_AREA</text><text x="4" y="281">EMERGENCY_PHONE_PREFIX</text><text x="4" y="305">EMERGENCY_PHONE_SUFFIX</text><text x="4" y="329">EMERGENCY_PHONE_EXT</text><text x="4" y="353">CREATOR_ID</text><text x="4" y="377">CREATOR_DATE</text><text x="4" y="401">UPDATOR_ID</text><text x="4" y="425">UPDATOR_DATE</text><text x="4" y="449">EMERGENCY_PHONE_EXT_2</text><text x="4" y="473">EMERGENCY_PHONE_PREFIX_2</text><text x="4" y="497">EMERGENCY_PHONE_SUFFIX_2</text><text x="4" y="521">RECIDIVIST</text><text x="4" y="545">RELATIONSHIP</text><text x="4" y="569">EMERGENCY_PHONE_AREA_2</text><text x="4" y="593">HENRY1</text><text x="4" y="617">HENRY2</text><text x="4" y="641">NCIC_FINGERPRINT</text><text x="4" y="665">CITIZENSHIP_COUNTRY</text><text x="4" y="689">BIRTH_COUNTRY_TYPE</text><text x="4" y="713">BIRTH_STATE_TYPE</text><text x="4" y="737">CITIZENSHIP_COUNTRY_TYPE</text><text x="4" y="761">REC_ID</text><text x="4" y="785">DATE_OF_INFO</text>
<text x="4" y="809">&lt; 7</text><text x="286" y="809" class="r">54 &gt;</text></g>
<g id="EJS_COMMENTS" transform="translate(83.3,1880.6)"><rect class="o" width="128.4" height="72"/><rect class="w" y="24" width="128.4" height="24"/><rect class="h" width="128.4" height="24"/><path class="l" d="M50,48V72M83,48V72"/><text x="4" y="17">EJS_COMMENTS</text><text x="4" y="41">...</text><text x="124" y="65" class="r">7 &gt;</text></g>
<g id="EJS_CODES" transform="translate(99.3,2531.6)"><rect class="o" width="98.4" height="72"/><rect class="w" y="24" width="98.4" height="24"/><rect class="h" width="98.4" height="24"/><path class="l" d="M22,48V72M42.4,48V72"/><text x="4" y="17">EJS_CODES</text><text x="4" y="41">...</text><text x="94" y="65" class="r">1090 &gt;</text></g>
<g id="MASTER_INDEX_SECURITY_CODES" transform="translate(17.3,5424.3)"><rect class="o" width="262.4" height="72"/><rect class="w" y="24" width="262.4" height="24"/><rect class="h" width="262.4" height="24"/><path class="l" d="M112,48V72M177,48V72"/><text x="4" y="17">MASTER_INDEX_SECURITY_CODES</text><text x="4" y="41">...</text><text x="258" y="65" class="r">19 &gt;</text></g>
<text x="17" y="5790">Generated by SchemaSpy</text>
</g>
</svg>
